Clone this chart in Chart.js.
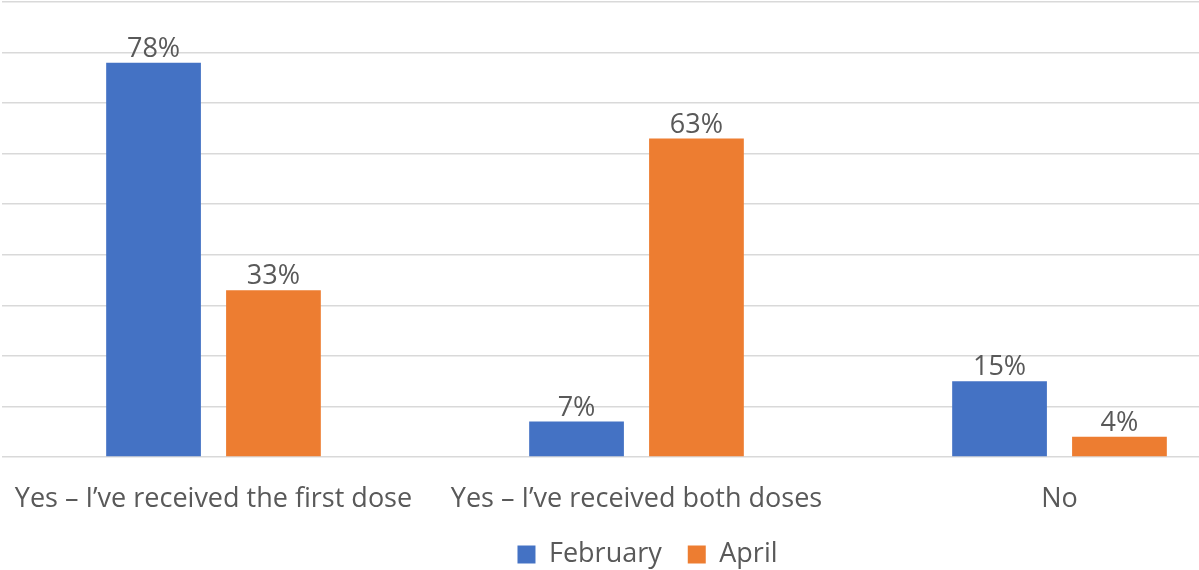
<!DOCTYPE html>
<html>
<head>
<meta charset="utf-8">
<script src="https://cdn.jsdelivr.net/npm/chart.js@4"></script>
<style>
  html, body { margin: 0; padding: 0; background: #fff; overflow: hidden; }
  #wrap { width: 1199px; height: 570px; overflow: hidden; }
</style>
</head>
<body>
<div id="wrap"><canvas id="chart" width="1295" height="570"></canvas></div>
<script>
const categories = [
  "Yes \u2013 I\u2019ve received the first dose",
  "Yes \u2013 I\u2019ve received both doses",
  "No"
];
const february = [78, 7, 15];
const april = [33, 63, 4];
const seriesNames = ["February", "April"];

const textColor = "#595959";
const fontFamily = "'Open Sans', sans-serif";
const fontSize = 27;

// draws the "78%" style value over every bar
const barLabels = {
  id: "barLabels",
  afterDatasetsDraw(chart) {
    const ctx = chart.ctx;
    ctx.save();
    ctx.fillStyle = textColor;
    ctx.font = fontSize + "px " + fontFamily;
    ctx.textAlign = "center";
    ctx.textBaseline = "alphabetic";
    chart.data.datasets.forEach((ds, i) => {
      chart.getDatasetMeta(i).data.forEach((bar, j) => {
        ctx.fillText(ds.data[j] + "%", bar.x, bar.y - 6);
      });
    });
    ctx.restore();
  }
};

// legend padding also sets the gap between items; trim the box height
// so the wide item gap doesn't push the plot up, and centre it on the page
const legendFit = {
  id: "legendFit",
  beforeLayout(chart) {
    const lg = chart.legend;
    if (lg && !lg._trimmed) {
      const fit = lg.fit;
      lg.fit = function () {
        fit.call(this);
        this.height = 55;
      };
      lg._trimmed = true;
    }
  },
  afterLayout(chart) {
    const lg = chart.legend;
    if (lg) {
      lg.left += 11;
      lg.right += 11;
    }
  }
};

new Chart(document.getElementById("chart"), {
  type: "bar",
  data: {
    labels: categories,
    datasets: [
      {
        label: seriesNames[0],
        data: february,
        backgroundColor: "#4472c4",
        categoryPercentage: 0.567,
        barPercentage: 0.79
      },
      {
        label: seriesNames[1],
        data: april,
        backgroundColor: "#ed7d31",
        categoryPercentage: 0.567,
        barPercentage: 0.79
      }
    ]
  },
  options: {
    responsive: false,
    animation: false,
    layout: { padding: { left: 2, right: 24, top: 2, bottom: 0 } },
    scales: {
      x: {
        grid: { display: false },
        border: { display: false },
        ticks: {
          color: textColor,
          font: { size: fontSize, family: fontFamily },
          padding: 18,
          maxRotation: 0
        },
        afterFit(scale) {
          scale.height = 58;
          scale.paddingLeft = 0;
          scale.paddingRight = 0;
        }
      },
      y: {
        min: 0,
        max: 90,
        ticks: { display: false, stepSize: 10 },
        border: { display: false },
        grid: { color: "#d9d9d9", lineWidth: 1.5, drawTicks: false }
      }
    },
    plugins: {
      legend: {
        position: "bottom",
        labels: {
          color: textColor,
          font: { size: fontSize, family: fontFamily },
          boxWidth: 18,
          boxHeight: 18,
          padding: 26
        }
      },
      tooltip: { enabled: false }
    }
  },
  plugins: [barLabels, legendFit]
});
</script>
</body>
</html>
